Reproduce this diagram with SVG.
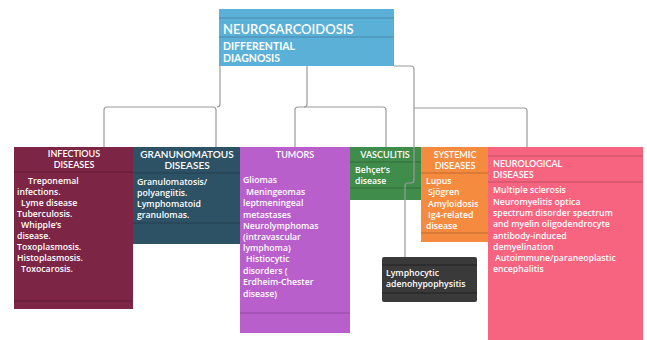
<svg xmlns="http://www.w3.org/2000/svg" width="647" height="340" viewBox="0 0 647 340">
<style>
text{font-family:"Open Sans","Liberation Sans",sans-serif;fill:#fff;font-size:8.7px;font-weight:600}
.t{font-family:Lato,"Open Sans",sans-serif;font-size:9px;font-weight:600}
.c{text-anchor:middle}
.dv{stroke:#000;stroke-opacity:0.22;stroke-width:1;fill:none}
.cn{stroke:#9a9a9a;stroke-width:1.2;fill:none}
</style>
<rect width="647" height="340" fill="#fff"/>
<g id="root">
<rect x="219" y="9" width="175" height="57" fill="#5BB0D8"/>
<path class="dv" d="M219,18H394M219,37H394"/>
<text class="t" x="223" y="34" style="font-size:13px">NEUROSARCOIDOSIS</text>
<text class="t" x="223" y="50" style="font-size:10.5px;font-weight:700">DIFFERENTIAL</text>
<text class="t" x="223" y="62" style="font-size:10.5px;font-weight:700">DIAGNOSIS</text>
</g>
<g id="infectious">
<rect x="14" y="147" width="119" height="162" fill="#7D2545"/>
<path class="dv" d="M14,172H133M14,301H133"/>
<text class="t c" x="74" y="157">INFECTIOUS</text>
<text class="t c" x="74" y="168">DISEASES</text>
<text x="28" y="184">Treponemal</text>
<text x="17" y="195">infections.</text>
<text x="21" y="206">Lyme disease</text>
<text x="17" y="217">Tuberculosis.</text>
<text x="21" y="228">Whipple’s</text>
<text x="17" y="239">disease.</text>
<text x="17" y="250">Toxoplasmosis.</text>
<text x="17" y="261">Histoplasmosis.</text>
<text x="21" y="272">Toxocarosis.</text>
</g>
<g id="granulomatous">
<rect x="133" y="147" width="107" height="97" fill="#2E5265"/>
<path class="dv" d="M133,173H240M133,223H240"/>
<text class="t c" x="187" y="158" style="font-size:10px">GRANUNOMATOUS</text>
<text class="t c" x="187" y="169" style="font-size:10px">DISEASES</text>
<text x="137" y="185">Granulomatosis/</text>
<text x="137" y="196">polyangiitis.</text>
<text x="137" y="207">Lymphomatoid</text>
<text x="137" y="218">granulomas.</text>
</g>
<g id="tumors">
<rect x="240" y="147" width="110" height="186" fill="#B95FCB"/>
<path class="dv" d="M240,313H350"/>
<text class="t c" x="295" y="158">TUMORS</text>
<text x="243" y="183">Gliomas</text>
<text x="246" y="195">Meningeomas</text>
<text x="243" y="206">leptmeningeal</text>
<text x="243" y="218">metastases</text>
<text x="243" y="229">Neurolymphomas</text>
<text x="243" y="240">(intravascular</text>
<text x="243" y="251">lymphoma)</text>
<text x="246" y="262">Histiocytic</text>
<text x="243" y="274">disorders (</text>
<text x="243" y="285">Erdheim-Chester</text>
<text x="243" y="297">disease)</text>
</g>
<g id="vasculitis">
<rect x="350" y="147" width="71" height="53" fill="#3F8C4B"/>
<path class="dv" d="M350,162H421M350,188H421"/>
<text class="t c" x="385" y="158">VASCULITIS</text>
<text x="355" y="173">Behçet’s</text>
<text x="355" y="184">disease</text>
</g>
<g id="systemic">
<rect x="421" y="147" width="67" height="95" fill="#F48B3E"/>
<path class="dv" d="M421,173H488M421,233H488"/>
<text class="t c" x="455" y="158">SYSTEMIC</text>
<text class="t c" x="455" y="169">DISEASES</text>
<text x="426" y="184">Lupus</text>
<text x="428" y="195">Sjögren</text>
<text x="428" y="207">Amyloidosis</text>
<text x="428" y="218">Ig4-related</text>
<text x="426" y="229">disease</text>
</g>
<g id="neurological">
<rect x="488" y="147" width="155" height="193" fill="#F6647F"/>
<path class="dv" d="M488,156H643M488,182H643"/>
<text class="t" x="493" y="167">NEUROLOGICAL</text>
<text class="t" x="493" y="178">DISEASES</text>
<text x="493" y="193">Multiple sclerosis</text>
<text x="493" y="205">Neuromyelitis optica</text>
<text x="493" y="216">spectrum disorder spectrum</text>
<text x="493" y="227">and myelin oligodendrocyte</text>
<text x="493" y="239">antibody-induced</text>
<text x="493" y="250">demyelination</text>
<text x="495" y="261">Autoimmune/paraneoplastic</text>
<text x="493" y="272">encephalitis</text>
</g>
<g id="lymphocytic">
<rect x="382" y="257" width="95" height="45" rx="2" fill="#3A3A3A"/>
<path class="dv" d="M382,265H477M382,293H477" style="stroke-opacity:0.45"/>
<text x="386" y="276">Lymphocytic</text>
<text x="386" y="287">adenohypophysitis</text>
</g>
<g id="connectors">
<path class="cn" d="M220,66V104Q220,107 217,107"/>
<path class="cn" d="M104,147V110Q104,107 107,107H213Q216,107 216,110V147"/>
<path class="cn" d="M307,66V104Q307,107 304,107"/>
<path class="cn" d="M295,147V110Q295,107 298,107H383Q386,107 386,110V147"/>
<path class="cn" d="M394,66H411Q414,66 414,69V180Q414,183 411,183H408Q405,183 405,186V257"/>
<path class="cn" d="M414,108H524Q527,108 527,111V147"/>
</g>
</svg>
